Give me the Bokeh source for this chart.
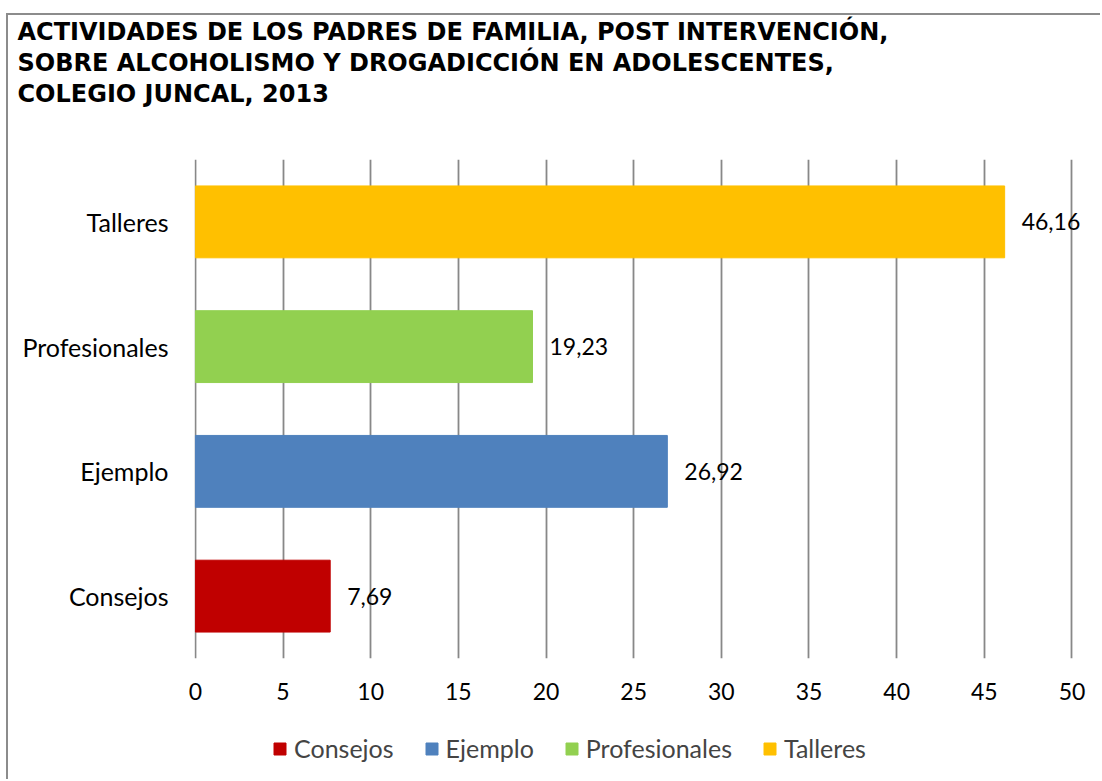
from bokeh.plotting import figure
from bokeh.layouts import column
from bokeh.models import ColumnDataSource, Range1d, FactorRange, Title, Legend, LegendItem, FixedTicker
from bokeh.embed import file_html
from bokeh.resources import INLINE
from bokeh.core.properties import value

# ---- data ----
categories = ["Consejos", "Ejemplo", "Profesionales", "Talleres"]
values = [7.69, 26.92, 19.23, 46.16]
colors = ["#C00000", "#4F81BD", "#92D050", "#FFC000"]
x_ticks = [0, 5, 10, 15, 20, 25, 30, 35, 40, 45, 50]
title_lines = [
    "ACTIVIDADES DE LOS PADRES DE FAMILIA, POST INTERVENCIÓN,",
    "SOBRE ALCOHOLISMO Y DROGADICCIÓN EN ADOLESCENTES,",
    "COLEGIO JUNCAL, 2013",
]

labels = [f"{v:.2f}".replace(".", ",") for v in values]
src = ColumnDataSource(dict(cat=categories, val=values, color=colors, lab=labels))

FONT = "Lato"
FS_CAT = "25px"
FS_NUM = "23px"
TFONT = "DejaVu Sans"
TFS = "24px"

p = figure(width=1092, height=714,
           y_range=FactorRange(*categories), x_range=Range1d(-0.05, 51.0),
           output_backend="svg", toolbar_location=None,
           min_border_left=186, min_border_right=11,
           min_border_top=143, min_border_bottom=71)

r = p.hbar(y="cat", left=0, right="val", height=0.576, color="color", source=src)

p.text(x="val", y="cat", text="lab", x_offset=17, text_baseline="middle",
       text_align="left", text_font=value(FONT), text_font_size=FS_NUM,
       text_color="#000000", source=src)

p.outline_line_color = None
p.ygrid.grid_line_color = None
p.xgrid.grid_line_color = "#888888"
p.xgrid.grid_line_width = 1.8
p.xaxis.ticker = FixedTicker(ticks=x_ticks)

for ax in (p.xaxis[0], p.yaxis[0]):
    ax.axis_line_color = None
    ax.major_tick_line_color = None
    ax.minor_tick_line_color = None
    ax.major_tick_out = 0
    ax.major_tick_in = 0
    ax.minor_tick_out = 0
    ax.major_label_text_font = FONT
    ax.major_label_text_color = "#000000"
p.xaxis.major_label_standoff = 24
p.xaxis.major_label_text_font_size = FS_NUM
p.yaxis.major_label_text_font_size = FS_CAT
p.yaxis.major_label_standoff = 26

# spacer between title block and plot frame
p.add_layout(Title(text="\u00a0", standoff=22.7, text_font=TFONT,
                   text_font_size="23px"), "above")
for t in reversed(title_lines):
    p.add_layout(Title(text=t, align="left", offset=-177, standoff=1.1,
                       text_font=TFONT, text_font_style="bold",
                       text_font_size=TFS, text_color="#000000"), "above")

# ---- legend strip below the chart ----
lg = figure(width=1092, height=50,
            y_range=FactorRange(*categories), x_range=Range1d(-0.05, 51.0),
            output_backend="svg", toolbar_location=None,
            x_axis_type=None, y_axis_type=None,
            min_border_left=0, min_border_right=0,
            min_border_top=0, min_border_bottom=0)
lg.outline_line_color = None
lg.grid.grid_line_color = None
lr = lg.hbar(y="cat", left=0, right="val", height=0.576, color="color", source=src)
lr.visible = False

items = [LegendItem(label=c, renderers=[lr], index=i) for i, c in enumerate(categories)]
legend = Legend(items=items, orientation="horizontal", location=(78, 16),
                label_text_font=FONT, label_text_font_size=FS_CAT,
                glyph_width=15, glyph_height=15, label_standoff=7, spacing=30,
                padding=0, margin=0, border_line_color=None,
                background_fill_alpha=0, inactive_fill_alpha=0)
lg.add_layout(legend, "center")

layout = column(p, lg, spacing=0)
layout.styles = {"border-left": "2px solid #8c8c8c", "border-top": "2px solid #8c8c8c",
                 "margin-left": "6px", "margin-top": "13px"}
open("out.html", "w").write(file_html(layout, INLINE))
